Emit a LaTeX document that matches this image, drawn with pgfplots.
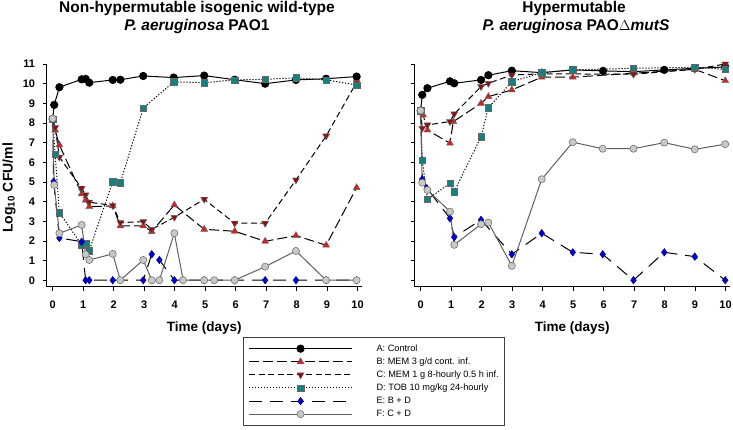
\documentclass[border=0pt]{standalone}
\usepackage{pgfplots}
\pgfplotsset{compat=1.18}
\usepackage{fontspec}
\setmainfont{Liberation Sans}

\definecolor{cB}{RGB}{205,35,35}
\definecolor{cC}{RGB}{135,20,20}
\definecolor{cD}{RGB}{20,128,128}
\definecolor{cE}{RGB}{0,0,210}
\definecolor{cFfill}{RGB}{200,200,200}
\definecolor{cFline}{RGB}{95,95,95}

\pgfplotsset{
  panel/.style={
    scale only axis, width=315.5pt, height=222.7pt,
    xmin=-0.2, xmax=10.15, ymin=-0.33, ymax=11,
    axis x line=bottom, axis y line=left,
    axis line style={-, line width=0.8pt},
    xtick={0,...,10}, ytick={0,...,11},
    tick align=outside, major tick length=4pt,
    tick style={line width=0.8pt, black},
    ticklabel style={font=\bfseries\fontsize{11}{13}\selectfont},
    xticklabel style={yshift=-7pt},
    yticklabel style={xshift=-4pt},
    /pgf/number format/assume math mode=true,
    xlabel={Time (days)},
    xlabel style={font=\bfseries\fontsize{13.5}{16}\selectfont,
      at={(axis description cs:0.5,0)}, anchor=base, yshift=-45pt},
    legend image code/.code={
      \draw[mark repeat=2, mark phase=2, #1]
        plot coordinates {(0pt,0pt) (51.5pt,0pt) (103pt,0pt)};
    },
  },
  sA/.style={black, line width=1pt, mark=*, mark size=3.6pt,
    mark options={solid, fill=black}},
  sB/.style={black, line width=1pt, dash pattern=on 10pt off 4pt, mark=triangle*,
    mark size=4pt, mark options={solid, fill=cB, draw=black!60, line width=0.4pt}},
  sC/.style={black, line width=1pt, dash pattern=on 6pt off 3.5pt, mark=triangle*,
    mark size=4pt, mark options={solid, rotate=180, fill=cC, draw=black!60, line width=0.4pt}},
  sD/.style={black, line width=1pt, dash pattern=on 1.2pt off 1.8pt, mark=square*,
    mark size=3.2pt, mark options={solid, fill=cD, draw=black!60, line width=0.4pt}},
  sE/.style={black, line width=1pt, dash pattern=on 13pt off 8pt, mark=diamond*,
    mark size=3.8pt, mark options={solid, fill=cE, draw=cE!60!black, line width=0.4pt}},
  sF/.style={cFline, line width=1pt, mark=*, mark size=3.6pt,
    mark options={solid, fill=cFfill, draw=black!60, line width=0.5pt}},
}

\begin{document}
\begin{tikzpicture}[x=1pt, y=1pt]
\useasboundingbox (0,0) rectangle (733,429);

% titles
\node[anchor=base, font=\bfseries\fontsize{15.5}{18}\selectfont] at (197,416.3)
  {Non-hypermutable isogenic wild-type};
\node[anchor=base, font=\bfseries\fontsize{15.5}{18}\selectfont] at (197,398.3)
  {\textit{P. aeruginosa} PAO1};
\node[anchor=base, font=\bfseries\fontsize{15.5}{18}\selectfont] at (574,416.3)
  {Hypermutable};
\node[anchor=base, font=\bfseries\fontsize{15.5}{18}\selectfont] at (576,398.3)
  {\textit{P. aeruginosa} PAO$\Delta$\textit{mutS}};

% y label
\node[rotate=90, font=\bfseries\fontsize{14}{16}\selectfont] at (9,241)
  {Log\textsubscript{10} CFU/ml};

% ---------- left panel ----------
\begin{axis}[panel, at={(46.6pt,142.3pt)}, anchor=south west,
  legend style={at={(0.623,-0.226)}, anchor=north west,
    draw=black!75, line width=0.8pt,
    font=\fontsize{9.2}{10}\selectfont,
    inner xsep=5pt, inner ysep=6pt, row sep=2.6pt,
    nodes={inner sep=1pt, text height=7pt, text depth=1.5pt},
    /tikz/every odd column/.append style={column sep=23pt}},
  legend cell align=left]

\addplot[sA] coordinates {
  (0,8.2) (0.05,8.92) (0.22,9.82) (0.95,10.22) (1.08,10.24) (1.2,10.05)
  (1.97,10.19) (2.22,10.2) (2.97,10.39) (3.97,10.31) (4.97,10.41)
  (5.97,10.2) (6.97,10.0) (7.98,10.19) (8.97,10.25) (9.97,10.36)};
\addlegendentry{A: Control}

\addplot[sB] coordinates {
  (0,8.2) (0.08,7.64) (0.22,6.88) (0.95,4.39) (1.08,4.07) (1.2,3.74)
  (1.97,3.78) (2.22,2.76) (2.97,2.76) (3.25,2.47) (3.99,3.83) (4.97,2.59)
  (5.97,2.49) (6.97,1.98) (7.98,2.27) (8.97,1.78) (9.97,4.71)};
\addlegendentry{B: MEM 3 g/d cont. inf.}

\addplot[sC] coordinates {
  (0,8.2) (0.08,7.76) (0.22,6.26) (0.95,4.68) (1.08,4.34) (1.2,3.97)
  (1.97,3.8) (2.22,2.93) (2.97,2.98) (3.25,2.59) (3.99,3.2) (4.97,4.12)
  (5.97,2.9) (6.97,2.9) (7.98,5.1) (8.97,7.34) (9.97,10.07)};
\addlegendentry{C: MEM 1 g 8-hourly 0.5 h inf.}

\addplot[sD] coordinates {
  (0,8.2) (0.08,6.42) (0.22,3.44) (0.95,1.8) (1.08,1.88) (1.2,1.51)
  (1.97,5.02) (2.22,4.96) (2.97,8.76) (3.97,10.09) (4.97,10.05)
  (5.97,10.19) (6.97,10.22) (7.98,10.3) (8.97,10.19) (9.97,9.93)};
\addlegendentry{D: TOB 10 mg/kg 24-hourly}

\addplot[sE] coordinates {
  (0,8.2) (0.03,5.02) (0.22,2.15) (0.95,1.96) (1.08,0) (1.2,0) (1.97,0)
  (2.97,0) (3.25,1.32) (3.5,1.03) (3.99,0) (4.97,0) (5.97,0) (6.97,0)
  (7.98,0) (8.97,0) (9.97,0)};
\addlegendentry{E: B + D}

\addplot[sF] coordinates {
  (0,8.22) (0.05,4.85) (0.22,2.39) (0.95,2.81) (1.08,1.32) (1.2,1.03)
  (1.97,1.34) (2.22,0) (2.97,1.03) (3.25,0) (3.5,0) (3.99,2.39) (4.28,0)
  (4.97,0) (5.3,0) (5.97,0) (6.97,0.69) (7.98,1.49) (8.97,0) (9.97,0)};
\addlegendentry{F: C + D}
\end{axis}

% ---------- right panel ----------
\begin{axis}[panel, at={(414.6pt,142.3pt)}, anchor=south west, yticklabels={}]

\addplot[sA] coordinates {
  (0,8.63) (0.05,9.43) (0.22,9.77) (0.96,10.12) (1.1,10.02) (1.98,10.19)
  (2.22,10.43) (2.99,10.66) (3.97,10.56) (4.99,10.7) (5.98,10.65)
  (6.98,10.61) (7.99,10.7) (8.99,10.78) (9.99,10.85)};

\addplot[sB] coordinates {
  (0,8.63) (0.08,8.41) (0.22,7.64) (0.96,6.97) (1.07,8.07) (1.98,9.0)
  (2.22,9.34) (2.99,9.68) (3.97,10.33) (4.99,10.33) (6.98,10.53)
  (8.99,10.73) (9.99,10.15)};

\addplot[sC] coordinates {
  (0,8.63) (0.05,7.73) (0.22,7.9) (0.96,8.07) (1.1,8.46) (1.98,9.85)
  (2.22,10.02) (2.99,10.44) (3.97,10.5) (6.98,10.48) (8.99,10.73)
  (9.99,11.0)};

\addplot[sD] coordinates {
  (0,8.63) (0.05,6.12) (0.22,4.12) (0.96,4.93) (1.1,4.51) (1.98,7.3)
  (2.22,8.78) (2.99,10.1) (3.97,10.56) (4.99,10.7) (6.98,10.78)
  (8.99,10.83) (9.99,10.73)};

\addplot[sE] coordinates {
  (0,8.63) (0.05,5.14) (0.2,4.68) (0.96,3.15) (1.1,2.19) (1.98,3.07)
  (2.99,1.32) (3.97,2.39) (4.99,1.42) (5.97,1.32) (6.98,0) (7.99,1.42)
  (8.99,1.2) (9.99,0)};

\addplot[sF] coordinates {
  (0,8.63) (0.05,4.96) (0.22,4.59) (0.96,3.49) (1.1,1.8) (1.98,2.85)
  (2.22,2.93) (2.99,0.73) (3.97,5.14) (4.99,7.02) (5.97,6.69) (6.98,6.69)
  (7.99,7.0) (8.99,6.66) (9.99,6.92)};
\end{axis}
\end{tikzpicture}
\end{document}
